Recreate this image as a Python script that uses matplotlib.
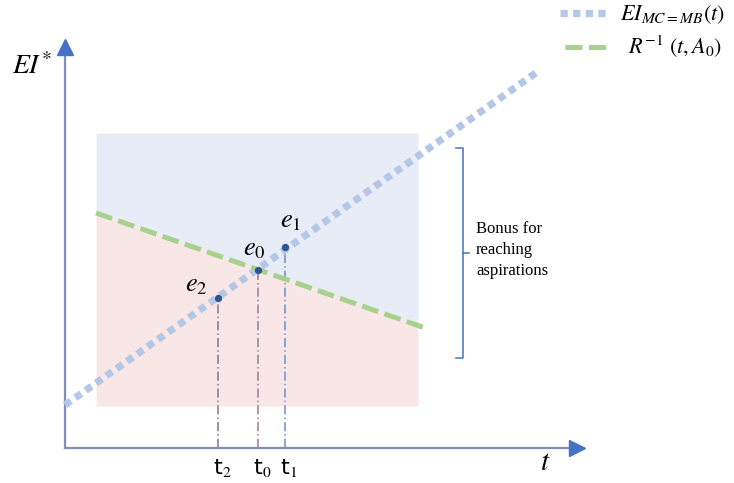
import matplotlib
matplotlib.use("Agg")
import matplotlib.pyplot as plt
import numpy as np

plt.rcParams['mathtext.fontset'] = 'stix'

# ---- data (diagram units: t to the right, EI upwards, origin at axes corner) ----
blue_t = [0, 475]
blue_ei = [43, 378]
green_t = [31, 360]
green_ei = [235, 120]
rect_t = [31, 353]
rect_ei = [42, 315]
pt_names = ["e_2", "e_0", "e_1"]
pt_t = [153, 193, 220]
pt_ei = [150, 178, 201]
tick_labels = ["t$_2$", "t$_0$", "t$_1$"]
bracket_ei = [90, 195, 300]
legend_labels = [r"$EI_{MC=MB}(t)$", r"$R^{-1}\ (t,A_0)$"]

fig = plt.figure(figsize=(7.34, 4.83), dpi=100)
ax = fig.add_axes([0, 0, 1, 1])
ax.set_xlim(-65, 669)
ax.set_ylim(-35, 448)
ax.axis('off')

# shaded regions
tt = np.linspace(rect_t[0], rect_t[1], 50)
slope = (green_ei[1] - green_ei[0]) / (green_t[1] - green_t[0])
gline = green_ei[0] + slope * (tt - green_t[0])
ax.fill_between(tt, gline, rect_ei[1], color='#E8ECF7', lw=0, zorder=1)
ax.fill_between(tt, rect_ei[0], gline, color='#F9E7E7', lw=0, zorder=1)

# axes
axis_col = '#7F90B8'
head_col = '#4472C4'
ax.plot([0, 0], [0, 398], color=axis_col, lw=1.6, zorder=3)
ax.plot([0, 508], [0, 0], color=axis_col, lw=1.6, zorder=3)
ax.plot([0], [401], marker='^', ms=12, color=head_col, mec=head_col, zorder=4)
ax.plot([512], [0], marker='>', ms=12, color=head_col, mec=head_col, zorder=4)

# vertical drop lines
drop_cols = ['#8E6F8A', '#A07898', '#6F8FC8']
for t, e, c in zip(pt_t, pt_ei, drop_cols):
    ax.plot([t, t], [0, e], color=c, lw=1.1, ls=(0, (6, 2, 1, 2)), zorder=2)

blue_style = dict(color='#B4C7E7', lw=5.2, ls=(0, (1, 0.75)),
                  solid_capstyle='butt', dash_capstyle='butt')
green_style = dict(color='#A9D18E', lw=3.6, ls=(0, (3.4, 1.3)),
                   dash_capstyle='butt')

# lines
ax.plot(blue_t, blue_ei, zorder=3, **blue_style)
ax.plot(green_t, green_ei, zorder=3, **green_style)

# points
ax.scatter(pt_t, pt_ei, s=18, color='#2F5597', zorder=5)
offsets = [(-33, 14), (-15, 22), (-5, 27)]
for n, t, e, (dx, dy) in zip(pt_names, pt_t, pt_ei, offsets):
    ax.text(t + dx, e + dy, f"${n}$", fontsize=19, va='center', ha='left', zorder=6)

# tick labels
for t, lab in zip(pt_t, tick_labels):
    ax.text(t + 4, -20, lab, fontsize=16, ha='center', va='center',
            family='DejaVu Sans')

# axis titles
ax.text(-33, 382, r"$EI^{*}$", fontsize=20, ha='center', va='center')
ax.text(480, -14, r"$t$", fontsize=21, ha='center', va='center')

# bracket
bx = 398
bc = '#4472C4'
ax.plot([bx - 7, bx, bx, bx - 7], [bracket_ei[2], bracket_ei[2], bracket_ei[0], bracket_ei[0]],
        color=bc, lw=1.1, zorder=3)
ax.plot([bx, bx + 6], [bracket_ei[1], bracket_ei[1]], color=bc, lw=1.1, zorder=3)
ax.text(411, 198, "Bonus for\nreaching\naspirations", fontsize=12,
        family='Liberation Serif', ha='left', va='center', multialignment='left',
        linespacing=1.45)

# legend (drawn manually)
ax.plot([495, 544], [435, 435], **blue_style)
ax.text(555, 433, legend_labels[0], fontsize=16, ha='left', va='center')
ax.plot([500, 541], [401, 401], **green_style)
ax.text(563, 401, legend_labels[1], fontsize=16, ha='left', va='center')

fig.savefig('out.png', dpi=100)
